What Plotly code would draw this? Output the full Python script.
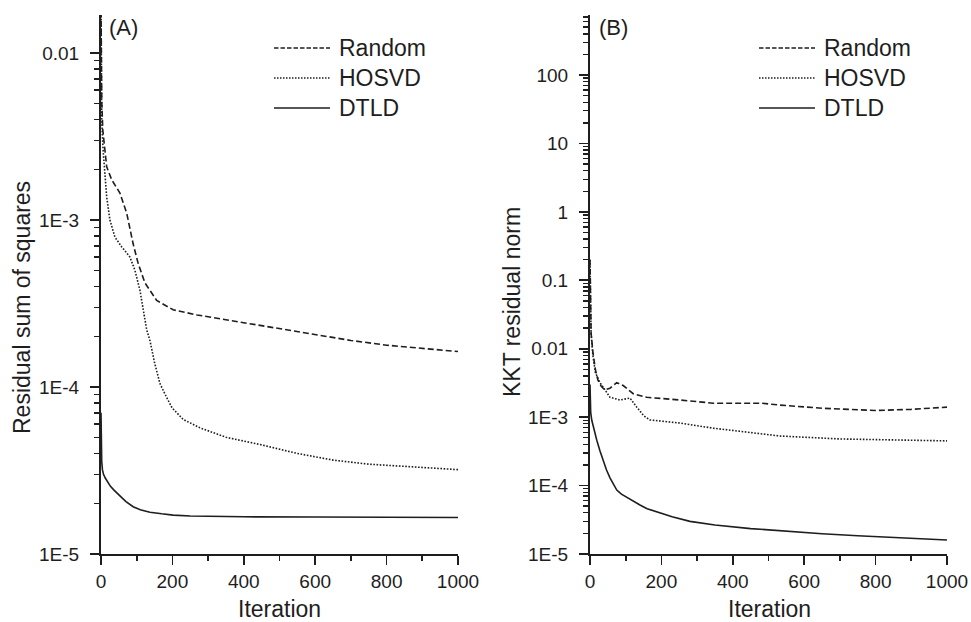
import plotly.graph_objects as go

# ---------------- data ----------------
# Panel A: residual sum of squares
iter_A_random = [0, 2, 5, 10, 16, 30, 53, 72, 90, 104, 123, 156, 202, 269, 362, 502, 600, 700, 800, 900, 1000]
rss_random = [2e-2, 5.2e-3, 3.46e-3, 2.6e-3, 2.08e-3, 1.74e-3, 1.45e-3, 1.1e-3, 7.2e-4, 5.5e-4, 4.2e-4,
              3.3e-4, 2.9e-4, 2.7e-4, 2.5e-4, 2.24e-4, 2.05e-4, 1.9e-4, 1.78e-4, 1.7e-4, 1.63e-4]

iter_A_hosvd = [0, 2, 6, 16, 25, 39, 58, 81, 95, 109, 128, 137, 150, 165, 180, 199, 230, 277, 350, 450,
                550, 650, 750, 850, 1000]
rss_hosvd = [2e-2, 4e-3, 2.6e-3, 1.37e-3, 1.0e-3, 7.9e-4, 6.9e-4, 6.0e-4, 5.0e-4, 3.8e-4, 2.2e-4, 1.9e-4,
             1.4e-4, 1.05e-4, 9e-5, 7.5e-5, 6.4e-5, 5.7e-5, 5.0e-5, 4.5e-5, 4.0e-5, 3.65e-5, 3.45e-5,
             3.35e-5, 3.2e-5]

iter_A_dtld = [0, 1, 2, 4, 7, 12, 18, 26, 35, 44, 56, 70, 90, 110, 137, 170, 202, 250, 300, 400, 600, 800, 1000]
rss_dtld = [7e-5, 4.6e-5, 3.6e-5, 3.2e-5, 3.0e-5, 2.85e-5, 2.7e-5, 2.55e-5, 2.43e-5, 2.34e-5, 2.2e-5,
            2.06e-5, 1.92e-5, 1.84e-5, 1.78e-5, 1.74e-5, 1.71e-5, 1.69e-5, 1.68e-5, 1.67e-5, 1.665e-5,
            1.66e-5, 1.655e-5]

# Panel B: KKT residual norm
iter_B_random = [0, 1, 3, 8, 15, 22, 32, 42, 56, 75, 93, 121, 159, 252, 345, 439, 480, 532, 650, 800, 900, 1000]
kkt_random = [0.2, 0.05, 0.017, 9e-3, 5e-3, 3.5e-3, 2.8e-3, 2.5e-3, 2.65e-3, 3.2e-3, 2.9e-3, 2.2e-3,
              1.95e-3, 1.78e-3, 1.6e-3, 1.6e-3, 1.6e-3, 1.5e-3, 1.35e-3, 1.25e-3, 1.3e-3, 1.4e-3]

iter_B_hosvd = [0, 1, 3, 8, 15, 28, 56, 84, 112, 131, 150, 168, 252, 345, 439, 532, 700, 850, 1000]
kkt_hosvd = [0.2, 0.05, 0.017, 8e-3, 4.5e-3, 3.2e-3, 1.95e-3, 1.78e-3, 1.9e-3, 1.4e-3, 1.05e-3, 9.1e-4,
             8.2e-4, 6.9e-4, 6.0e-4, 5.3e-4, 4.8e-4, 4.6e-4, 4.5e-4]

iter_B_dtld = [0, 2, 5, 10, 19, 28, 37, 46, 56, 65, 75, 88, 103, 120, 140, 160, 187, 230, 280, 350, 450,
               550, 650, 750, 850, 1000]
kkt_dtld = [3e-3, 1.15e-3, 9e-4, 7e-4, 4.6e-4, 3.2e-4, 2.3e-4, 1.7e-4, 1.3e-4, 1.04e-4, 8.6e-5, 7.5e-5,
            6.7e-5, 5.9e-5, 5.2e-5, 4.6e-5, 4.15e-5, 3.5e-5, 3.0e-5, 2.65e-5, 2.35e-5, 2.15e-5, 1.98e-5,
            1.85e-5, 1.74e-5, 1.6e-5]

series_names = ["Random", "HOSVD", "DTLD"]
x_ticks = [0, 200, 400, 600, 800, 1000]
x_minor = [100, 300, 500, 700, 900]
yA_ticks = [1e-5, 1e-4, 1e-3, 1e-2]
yA_text = ["1E-5", "1E-4", "1E-3", "0.01"]
yB_ticks = [1e-5, 1e-4, 1e-3, 1e-2, 1e-1, 1, 10, 100]
yB_text = ["1E-5", "1E-4", "1E-3", "0.01", "0.1", "1", "10", "100"]

# ---------------- styling ----------------
W, H = 971, 622
INK = "#1e1e1e"
FONT = "Liberation Sans, Arial, Helvetica, sans-serif"
DASHES = {"Random": "6px,3px", "HOSVD": "1.6px,1.6px", "DTLD": "solid"}
LEG_DASHES = {"Random": "4.5px,2px", "HOSVD": "1.5px,1.5px", "DTLD": "solid"}
LW = 1.6


def px(x):
    return x / W


def py(y):
    return 1 - y / H


def minor_log(lo, hi):
    vals = []
    for e in range(lo, hi + 1):
        for k in range(2, 10):
            vals.append(k * 10.0 ** e)
    return vals


fig = go.Figure()

panelA = [(iter_A_random, rss_random), (iter_A_hosvd, rss_hosvd), (iter_A_dtld, rss_dtld)]
panelB = [(iter_B_random, kkt_random), (iter_B_hosvd, kkt_hosvd), (iter_B_dtld, kkt_dtld)]

for name, (xs, ys) in zip(series_names, panelA):
    fig.add_trace(go.Scatter(x=xs, y=ys, mode="lines", name=name, showlegend=False,
                             line=dict(color=INK, width=LW, dash=DASHES[name]),
                             xaxis="x", yaxis="y"))
for name, (xs, ys) in zip(series_names, panelB):
    fig.add_trace(go.Scatter(x=xs, y=ys, mode="lines", name=name, showlegend=False,
                             line=dict(color=INK, width=LW, dash=DASHES[name]),
                             xaxis="x2", yaxis="y2"))

tickfont = dict(family=FONT, size=19, color=INK)


def xaxis_cfg(domain, anchor):
    return dict(domain=domain, anchor=anchor, range=[0, 1000], tickvals=x_ticks,
                ticktext=[str(v) for v in x_ticks],
                ticks="outside", ticklen=9, tickwidth=1.6, tickcolor=INK,
                showline=True, linewidth=2, linecolor=INK, showgrid=False, zeroline=False,
                tickfont=tickfont, automargin=False,
                minor=dict(tickvals=x_minor, ticks="outside", ticklen=5, tickwidth=1.6,
                           tickcolor=INK, showgrid=False))


def yaxis_cfg(domain, anchor, rng, tv, tt, mlo, mhi):
    return dict(domain=domain, anchor=anchor, type="log", range=rng, tickvals=tv, ticktext=tt,
                ticks="outside", ticklen=9, tickwidth=1.6, tickcolor=INK,
                showline=True, linewidth=2, linecolor=INK, showgrid=False, zeroline=False,
                tickfont=tickfont, ticklabelstandoff=7, automargin=False,
                minor=dict(tickvals=minor_log(mlo, mhi), ticks="outside", ticklen=5.5,
                           tickwidth=1.4, tickcolor=INK, showgrid=False))


ydom = [py(554), py(15)]
fig.update_layout(
    width=W, height=H,
    margin=dict(l=0, r=0, t=0, b=0),
    paper_bgcolor="white", plot_bgcolor="white",
    showlegend=False, hovermode=False,
    xaxis=xaxis_cfg([px(101), px(458)], "y"),
    yaxis=yaxis_cfg(ydom, "x", [-5, -1.7725], yA_ticks, yA_text, -5, -3),
    xaxis2=xaxis_cfg([px(590), px(947)], "y2"),
    yaxis2=yaxis_cfg(ydom, "x2", [-5, 2.877], yB_ticks, yB_text, -5, 2),
)

titlefont = dict(family=FONT, size=23, color=INK)
ann = [
    dict(text="Iteration", x=px(279.5), y=py(609), xref="paper", yref="paper",
         showarrow=False, font=titlefont, xanchor="center", yanchor="middle"),
    dict(text="Iteration", x=px(769.5), y=py(609), xref="paper", yref="paper",
         showarrow=False, font=titlefont, xanchor="center", yanchor="middle"),
    dict(text="Residual sum of squares", x=px(22), y=py(308), xref="paper", yref="paper",
         showarrow=False, font=titlefont, textangle=-90, xanchor="center", yanchor="middle"),
    dict(text="KKT residual norm", x=px(512), y=py(302), xref="paper", yref="paper",
         showarrow=False, font=titlefont, textangle=-90, xanchor="center", yanchor="middle"),
    dict(text="(A)", x=px(107), y=py(27), xref="paper", yref="paper",
         showarrow=False, font=dict(family=FONT, size=22, color=INK), xanchor="left", yanchor="middle"),
    dict(text="(B)", x=px(597), y=py(27), xref="paper", yref="paper",
         showarrow=False, font=dict(family=FONT, size=22, color=INK), xanchor="left", yanchor="middle"),
]

# legends (one per panel)
shapes = []
legend_rows = [48, 78, 108]
for (lx0, lx1, tx) in [(274, 330, 337), (759, 815, 822)]:
    for name, ry in zip(series_names, legend_rows):
        shapes.append(dict(type="line", xref="paper", yref="paper",
                           x0=px(lx0), x1=px(lx1), y0=py(ry), y1=py(ry),
                           line=dict(color=INK, width=LW, dash=LEG_DASHES[name])))
        ann.append(dict(text=name, x=px(tx), y=py(ry), xref="paper", yref="paper",
                        showarrow=False, font=titlefont, xanchor="left", yanchor="middle"))

fig.update_layout(annotations=ann, shapes=shapes)
# remove the browser's default 8px page margin so the figure fills the window exactly
fig.write_html("out.html", config={"displayModeBar": False, "staticPlot": True},
               post_script="document.body.style.margin='0';")
